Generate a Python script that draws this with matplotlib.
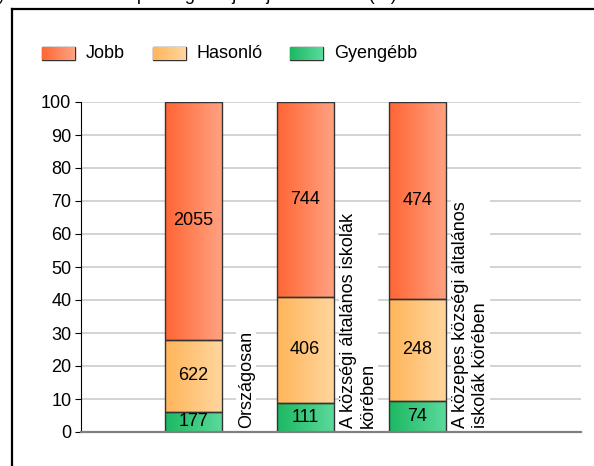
import numpy as np
import matplotlib
matplotlib.use("Agg")
import matplotlib.pyplot as plt
from matplotlib.colors import to_rgb

plt.rcParams['font.family'] = ['Liberation Sans', 'DejaVu Sans']

# data
categories = ["Országosan",
              "A községi általános iskolák\nkörében",
              "A közepes községi általános\niskolák körében"]
series = ["Gyengébb", "Hasonló", "Jobb"]
gyengebb = [177, 111, 74]
hasonlo = [622, 406, 248]
jobb = [2055, 744, 474]
yticks = list(range(0, 101, 10))
title = "telephelyek tanulóinak képességszintje a jobb tanulók (%)"

# gradient colours (left -> right)
grads = {
    "Jobb": ("#FF6633", "#FFA282"),
    "Hasonló": ("#FFB55A", "#FFD69E"),
    "Gyengébb": ("#1DB862", "#5CDA9C"),
}

W, H = 594, 466
fs = 13
fig = plt.figure(figsize=(W / 100, H / 100), dpi=100)
ax = fig.add_axes([81 / W, 1 - 432 / H, 500 / W, 330 / H])


def gradient(a, x0, x1, y0, y1, c0, c1, z=2):
    t = np.linspace(0, 1, 64)[None, :, None]
    img = (1 - t) * np.array(to_rgb(c0)) + t * np.array(to_rgb(c1))
    a.imshow(img, extent=(x0, x1, y0, y1), aspect='auto',
             interpolation='bilinear', zorder=z)


counts = {"Gyengébb": gyengebb, "Hasonló": hasonlo, "Jobb": jobb}
totals = np.array(gyengebb) + np.array(hasonlo) + np.array(jobb)
x = np.arange(len(categories))
bw = 0.51
bottom = np.zeros(len(categories))
for s in series:
    vals = np.array(counts[s]) / totals * 100
    bars = ax.bar(x, vals, bw, bottom=bottom, facecolor='none',
                  edgecolor='#333333', linewidth=1, zorder=3)
    for i, r in enumerate(bars):
        gradient(ax, r.get_x(), r.get_x() + r.get_width(),
                 r.get_y(), r.get_y() + r.get_height(), *grads[s])
        ax.text(x[i], bottom[i] + vals[i] / 2, str(counts[s][i]),
                ha='center', va='center', fontsize=fs, zorder=4)
    bottom += vals

for i, c in enumerate(categories):
    ax.text(x[i] + 0.475, 1.2, c, rotation=90, ha='center', va='bottom',
            multialignment='left', fontsize=fs, zorder=5,
            bbox=dict(fc='white', ec='none', pad=1))

ax.set_xlim(-1, 3.46)
ax.set_ylim(0, 100)
ax.set_yticks(yticks)
ax.tick_params(axis='y', length=4, width=0.8, labelsize=fs, pad=3)
ax.set_xticks([])
ax.yaxis.grid(True, color='#CCCCCC', linewidth=1.2, zorder=0)
ax.set_axisbelow(True)
for sp in ['top', 'right']:
    ax.spines[sp].set_visible(False)
ax.spines['left'].set_linewidth(0.8)
ax.spines['bottom'].set_color('#808080')
ax.spines['bottom'].set_linewidth(1.6)
ax.spines['bottom'].set_zorder(6)

# overlay for legend, frame and title
lax = fig.add_axes([0, 0, 1, 1])
lax.set_xlim(0, W)
lax.set_ylim(H, 0)
lax.axis('off')

leg_x = [42, 153, 290]
for lx, s in zip(leg_x, ["Jobb", "Hasonló", "Gyengébb"]):
    gradient(lax, lx, lx + 33, 60, 47, *grads[s])
    lax.add_patch(plt.Rectangle((lx, 47), 33, 13, fill=False,
                                edgecolor='#333333', linewidth=1))
    lax.text(lx + 44, 53.5, s, ha='left', va='center', fontsize=fs)
lax.set_xlim(0, W)
lax.set_ylim(H, 0)

lax.plot([11.5, 11.5], [8.5, H], color='black', lw=1.6, clip_on=False)
lax.plot([11.5, W], [8.5, 8.5], color='black', lw=1.6, clip_on=False)
# title is cut off at the top edge, as in the reference
lax.text(397, 0.5, title, ha='right', va='baseline', fontsize=fs)

fig.savefig("out.png", dpi=100)
